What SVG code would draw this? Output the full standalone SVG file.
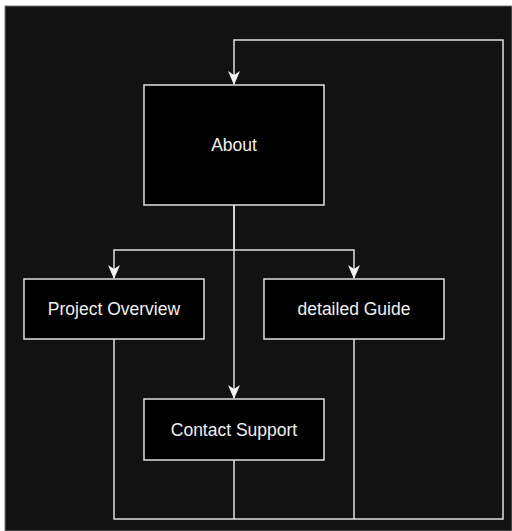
<svg xmlns="http://www.w3.org/2000/svg" width="512" height="531" viewBox="0 0 512 531">
<style>
.node rect{fill:#000;stroke:#e0e0e0;stroke-width:1.5}
.node text{fill:#f0f0f0;font-family:"Liberation Sans",Arial,sans-serif;font-size:17.5px;text-anchor:middle;dominant-baseline:central}
.edge{fill:none;stroke:#e0e0e0;stroke-width:1.5}
</style>
<defs>
<marker id="arr" viewBox="0 0 14 12" refX="13" refY="6" markerWidth="14" markerHeight="12" markerUnits="userSpaceOnUse" orient="auto">
<path d="M0,0 L14,6 L0,12 L4,6 Z" fill="#f4f4f4"/>
</marker>
</defs>
<rect x="0" y="0" width="512" height="531" fill="#ffffff"/>
<rect x="5" y="6" width="507" height="525" fill="#121212" stroke="#777" stroke-width="1"/>
<g id="connectors">
<path class="edge" d="M234,205 V250 H114 V278" marker-end="url(#arr)"/>
<path class="edge" d="M234,250 H354 V278" marker-end="url(#arr)"/>
<path class="edge" d="M234,205 V398" marker-end="url(#arr)"/>
<path class="edge" d="M114,339 V519 H503 V40 H234 V84" marker-end="url(#arr)"/>
<path class="edge" d="M234,460 V519"/>
<path class="edge" d="M354,339 V519"/>
</g>
<g id="about" class="node"><rect x="144" y="85" width="180" height="120"/><text x="234" y="145">About</text></g>
<g id="project-overview" class="node"><rect x="24" y="279" width="180" height="60"/><text x="114" y="309">Project Overview</text></g>
<g id="detailed-guide" class="node"><rect x="264" y="279" width="180" height="60"/><text x="354" y="309">detailed Guide</text></g>
<g id="contact-support" class="node"><rect x="144" y="399" width="180" height="61"/><text x="234" y="430">Contact Support</text></g>
</svg>
